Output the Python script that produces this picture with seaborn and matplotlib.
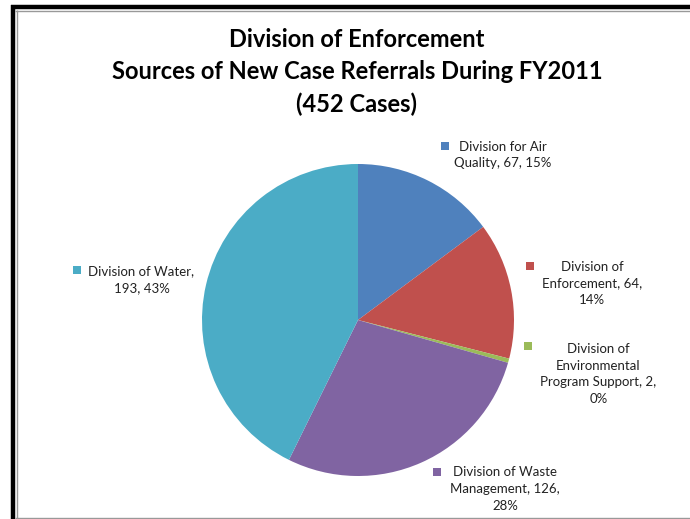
import numpy as np
import seaborn as sns
import matplotlib.pyplot as plt
from matplotlib.patches import Rectangle
from matplotlib.lines import Line2D

# 数据
divisions = ["Division for Air Quality", "Division of Enforcement",
             "Division of Environmental Program Support",
             "Division of Waste Management", "Division of Water"]
cases = [67, 64, 2, 126, 193]
label_texts = ["Division for Air\nQuality, 67, 15%",
               "Division of\nEnforcement, 64,\n14%",
               "Division of\nEnvironmental\nProgram Support, 2,\n0%",
               "Division of Waste\nManagement, 126,\n28%",
               "Division of Water,\n193, 43%"]
colors = ["#4F81BD", "#C0504D", "#9BBB59", "#8064A2", "#4BACC6"]

sns.set_theme(style="white")
plt.rcParams['font.family'] = ['Lato', 'DejaVu Sans']

W, H = 690, 519
fig = plt.figure(figsize=(W / 100, H / 100), dpi=100)

# 饼图，中心 (358,320)，半径 156 px
cx, cy, r = 358, 320, 156
ax = fig.add_axes([0, 0, 1, 1])
ax.pie(cases, colors=colors, startangle=90, counterclock=False,
       wedgeprops={'linewidth': 0})
ax.set_xlim(-cx / r, (W - cx) / r)
ax.set_ylim(-(H - cy) / r, cy / r)
ax.axis('off')

# 文字层，像素坐标
ov = fig.add_axes([0, 0, 1, 1])
ov.set_xlim(0, W)
ov.set_ylim(H, 0)
ov.axis('off')

ov.text(357, 72, "Division of Enforcement\nSources of New Case Referrals During FY2011\n(452 Cases)",
        ha='center', va='center', fontsize=17, fontweight='bold', linespacing=1.5, color='black')

# 标签位置 (文字中心, 方块位置)
label_pos = [(503, 155, 445, 146), (592, 283.5, 530, 266), (598.5, 374, 527.5, 346),
             (505, 489, 437, 471.5), (141.5, 279.5, 77, 270)]
for txt, c, (tx, ty, sx, sy) in zip(label_texts, colors, label_pos):
    ov.text(tx, ty, txt, ha='center', va='center', fontsize=9.5, linespacing=1.45, color='#222222')
    ov.add_patch(Rectangle((sx - 4, sy - 4), 8, 8, color=c, lw=0))

# 边框
ov.add_line(Line2D([11, W], [7, 7], color='black', lw=3.2, solid_capstyle='butt'))
ov.add_line(Line2D([13, 13], [5, H], color='black', lw=3.2, solid_capstyle='butt'))
ov.add_line(Line2D([15, W], [10.5, 10.5], color='#999999', lw=1, solid_capstyle='butt'))
ov.add_line(Line2D([16.5, 16.5], [10, H], color='#999999', lw=1, solid_capstyle='butt'))
ov.add_line(Line2D([15, W], [517.5, 517.5], color='#999999', lw=1, solid_capstyle='butt'))

fig.savefig("out.png", dpi=100)
